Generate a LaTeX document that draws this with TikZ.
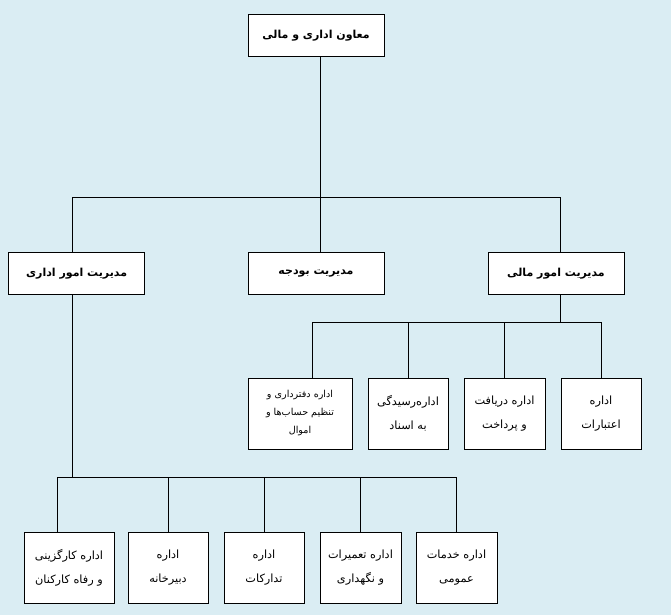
\documentclass[tikz,border=0pt]{standalone}
\usepackage{fontspec}
\newfontfamily\farsi[Script=Arabic]{DejaVu Sans}
\TeXXeTstate=1
\usetikzlibrary{calc}
\definecolor{bgblue}{RGB}{218,237,243}
\newcommand{\fa}[1]{\beginR #1\endR}

\begin{document}
\begin{tikzpicture}[x=1pt, y=-1pt, % Pixel-Koordinaten, y nach unten
    box/.style={draw, fill=white, line width=0.8pt, align=center, inner sep=2pt},
    head/.style={box, minimum width=136pt, minimum height=42pt, font=\farsi\bfseries\fontsize{11}{13}\selectfont},
    unit/.style={box, minimum width=80pt, minimum height=71pt, font=\farsi\fontsize{11.3}{24}\selectfont},
    link/.style={line width=0.8pt}]

    % Hintergrund
    \fill[bgblue] (0,0) rectangle (671,615);

    % Leitung oben
    \node[head] (vice) at (316,35.3) {\fa{معاون اداری و مالی}};

    % Managementebene
    \node[head] (admin)   at (76.6,273.3) {\fa{مدیریت امور اداری}};
    \node[head] (budget)  at (316,273.3)  {\fa{مدیریت بودجه}};
    \node[head] (finance) at (556,273.3)  {\fa{مدیریت امور مالی}};

    % Abteilungen unter mali
    \node[unit, minimum width=104pt, font=\farsi\fontsize{9.6}{18}\selectfont] (acc) at (300,413.5)
        {\fa{اداره دفترداری و}\\\fa{تنظیم حساب‌ها و}\\\fa{اموال}};
    \node[unit] (audit)   at (408,413.5)   {\fa{اداره‌رسیدگی}\\\fa{به اسناد}};
    \node[unit, minimum width=81pt] (pay) at (504.5,413.5) {\fa{اداره دریافت}\\\fa{و پرداخت}};
    \node[unit] (credit)  at (601,413.5)   {\fa{اداره}\\\fa{اعتبارات}};

    % Abteilungen unter edari
    \node[unit, minimum width=90pt] (staff) at (69,568) {\fa{اداره کارگزینی}\\\fa{و رفاه کارکنان}};
    \node[unit] (secr)    at (168,568)   {\fa{اداره}\\\fa{دبیرخانه}};
    \node[unit] (supply)  at (264,568)   {\fa{اداره}\\\fa{تدارکات}};
    \node[unit, minimum width=81pt] (repair)  at (360.5,568) {\fa{اداره تعمیرات}\\\fa{و نگهداری}};
    \node[unit, minimum width=81pt] (service) at (456.5,568) {\fa{اداره خدمات}\\\fa{عمومی}};

    % Sammelschienen
    \coordinate (bus1) at (0,197);
    \coordinate (bus2) at (0,322);
    \coordinate (bus3) at (0,477);

    % Verbindungen oben
    \draw[link] ($(vice.south)+(4,0)$) -- ($(vice.south |- bus1)+(4,0)$);
    \draw[link] ($(admin.north |- bus1)+(-4,0)$) -- ($(finance.north |- bus1)+(4,0)$);
    \draw[link] ($(admin.north |- bus1)+(-4,0)$) -- ($(admin.north)+(-4,0)$);
    \foreach \n in {budget, finance} {
        \draw[link] ($(\n.north |- bus1)+(4,0)$) -- ($(\n.north)+(4,0)$);
    }

    % Verbindungen mali
    \draw[link] ($(finance.south)+(4,0)$) -- ($(finance.south |- bus2)+(4,0)$);
    \draw[link] ($(acc.north |- bus2)+(12,0)$) -- (credit.north |- bus2);
    \draw[link] ($(acc.north |- bus2)+(12,0)$) -- ($(acc.north)+(12,0)$);
    \foreach \n in {audit, pay, credit} {
        \draw[link] (\n.north |- bus2) -- (\n.north);
    }

    % Verbindungen edari
    \draw[link] ($(admin.south)+(-4,0)$) -- ($(admin.south |- bus3)+(-4,0)$);
    \draw[link] ($(staff.north |- bus3)+(-12,0)$) -- (service.north |- bus3);
    \draw[link] ($(staff.north |- bus3)+(-12,0)$) -- ($(staff.north)+(-12,0)$);
    \foreach \n in {secr, supply, repair, service} {
        \draw[link] (\n.north |- bus3) -- (\n.north);
    }
\end{tikzpicture}
\end{document}
